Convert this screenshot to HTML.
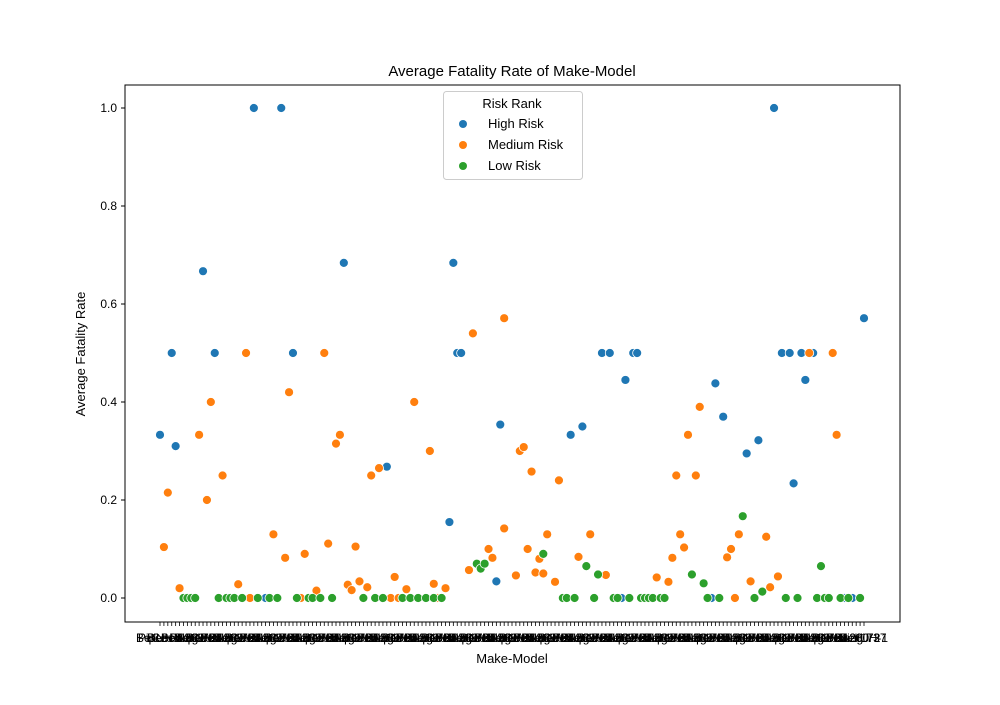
<!DOCTYPE html>
<html><head><meta charset="utf-8"><style>body{margin:0;background:#fff}svg{font-family:"Liberation Sans","DejaVu Sans",sans-serif}</style></head>
<body>
<svg id="chart" width="1000" height="700" viewBox="0 0 1000 700">
<rect width="1000" height="700" fill="#fff"/>
<text x="512" y="76" text-anchor="middle" font-size="15">Average Fatality Rate of Make-Model</text>
<text x="512" y="663" text-anchor="middle" font-size="13">Make-Model</text>
<text transform="translate(85,354) rotate(-90)" text-anchor="middle" font-size="13">Average Fatality Rate</text>
<g id="ticks"></g><g id="pts"></g>
<rect x="125" y="85" width="775" height="537" fill="none" stroke="#000" stroke-width="1"/>
<g>
<rect x="443.5" y="91.5" width="139" height="88" rx="3" fill="#fff" fill-opacity="0.8" stroke="#ccc"/>
<text x="512" y="108" text-anchor="middle" font-size="13">Risk Rank</text>
<circle cx="463" cy="124" r="4" fill="#1f77b4"/><text x="488" y="128" font-size="13">High Risk</text>
<circle cx="463" cy="145" r="4" fill="#ff7f0e"/><text x="488" y="149" font-size="13">Medium Risk</text>
<circle cx="463" cy="166" r="4" fill="#2ca02c"/><text x="488" y="170" font-size="13">Low Risk</text>
</g>
</svg>
<script>
const categoryCount = 181;
const yTicks = [0, 0.2, 0.4, 0.6, 0.8, 1.0];
const yTickLabels = ["0.0","0.2","0.4","0.6","0.8","1.0"];
const highIdx = [0,3,4,11,14,24,31,34,47,58,75,76,77,74,86,87,105,108,113,115,119,121,122,142,144,150,153,157,159,161,162,164,165,167,180,27,118,141,175,177];
const highVal = [.333,.5,.31,.667,.5,1,1,.5,.684,.268,.684,.5,.5,.155,.034,.354,.333,.35,.5,.5,.445,.5,.5,.438,.37,.295,.322,1,.5,.5,.234,.5,.445,.5,.571,0,0,0,0,0];
const medIdx = [1,2,5,10,12,13,16,20,22,23,29,32,33,36,37,40,42,43,45,46,48,49,50,51,53,54,56,59,60,61,63,65,69,70,71,73,79,80,84,85,88,88,91,92,93,94,95,96,97,98,99,101,102,107,110,114,127,130,131,132,133,134,135,137,138,145,146,147,148,151,155,156,158,166,172,173,179];
const medVal = [.104,.215,.02,.333,.2,.4,.25,.028,.5,0,.13,.082,.42,0,.09,.015,.5,.111,.315,.333,.027,.016,.105,.034,.022,.25,.265,0,.043,0,.018,.4,.3,.029,0,.02,.057,.54,.1,.082,.142,.571,.046,.3,.308,.1,.258,.052,.08,.05,.13,.033,.24,.084,.13,.047,.042,.033,.082,.25,.13,.103,.333,.25,.39,.083,.1,0,.13,.034,.125,.022,.044,.5,.5,.333,0];
const lowIdx = [6,7,8,9,15,17,18,19,21,25,28,30,35,38,39,41,44,52,55,57,62,64,66,68,70,72,81,82,83,98,103,104,106,109,111,112,116,117,120,123,124,125,126,128,129,136,139,140,143,149,152,154,160,163,168,169,170,171,174,176,179];
const lowVal = [0,0,0,0,0,0,0,0,0,0,0,0,0,0,0,0,0,0,0,0,0,0,0,0,0,0,.07,.06,.07,.09,0,0,0,.065,0,.048,0,0,0,0,0,0,0,0,0,.048,.03,0,0,.167,0,.013,0,0,0,.065,0,0,0,0,0];

const NS="http://www.w3.org/2000/svg";
const xS = i => 160 + i*(864-160)/(categoryCount-1);
const yS = v => 598 - v*490;
const ticks=document.getElementById('ticks'), pts=document.getElementById('pts');
function mk(tag,attrs,parent){const e=document.createElementNS(NS,tag);for(const k in attrs)e.setAttribute(k,attrs[k]);parent.appendChild(e);return e;}
yTicks.forEach((v,i)=>{
  const l=mk('line',{x1:121,x2:125,y1:yS(v),y2:yS(v),stroke:'#000'},ticks);
  
  
  const t=mk('text',{x:117,y:yS(v)+4,'text-anchor':'end','font-size':12},ticks);
  t.textContent=yTickLabels[i];
  
  
});
for(let i=0;i<categoryCount;i++){
  const l=mk('line',{x1:xS(i),x2:xS(i),y1:622,y2:626,stroke:'#000','stroke-width':0.8},ticks);
  
  
  if(i%2===0){
    const t=mk('text',{x:xS(i),y:642,'text-anchor':'middle','font-size':12},ticks);
    t.textContent=['BellUH-1','Cessna 172','Piper PA28','Boeing 737','Beech 200'][i%5];
    
    
  }
}
function series(idx,val,color,name){
  idx.forEach((c,i)=>{
    const p=mk('circle',{cx:xS(c),cy:yS(val[i]),r:4.5,fill:color,stroke:'#fff','stroke-width':0.8},pts);
    
    
  });
}
series(highIdx,highVal,'#1f77b4','point-high-risk');
series(medIdx,medVal,'#ff7f0e','point-medium-risk');
series(lowIdx,lowVal,'#2ca02c','point-low-risk');
</script>
</body></html>
